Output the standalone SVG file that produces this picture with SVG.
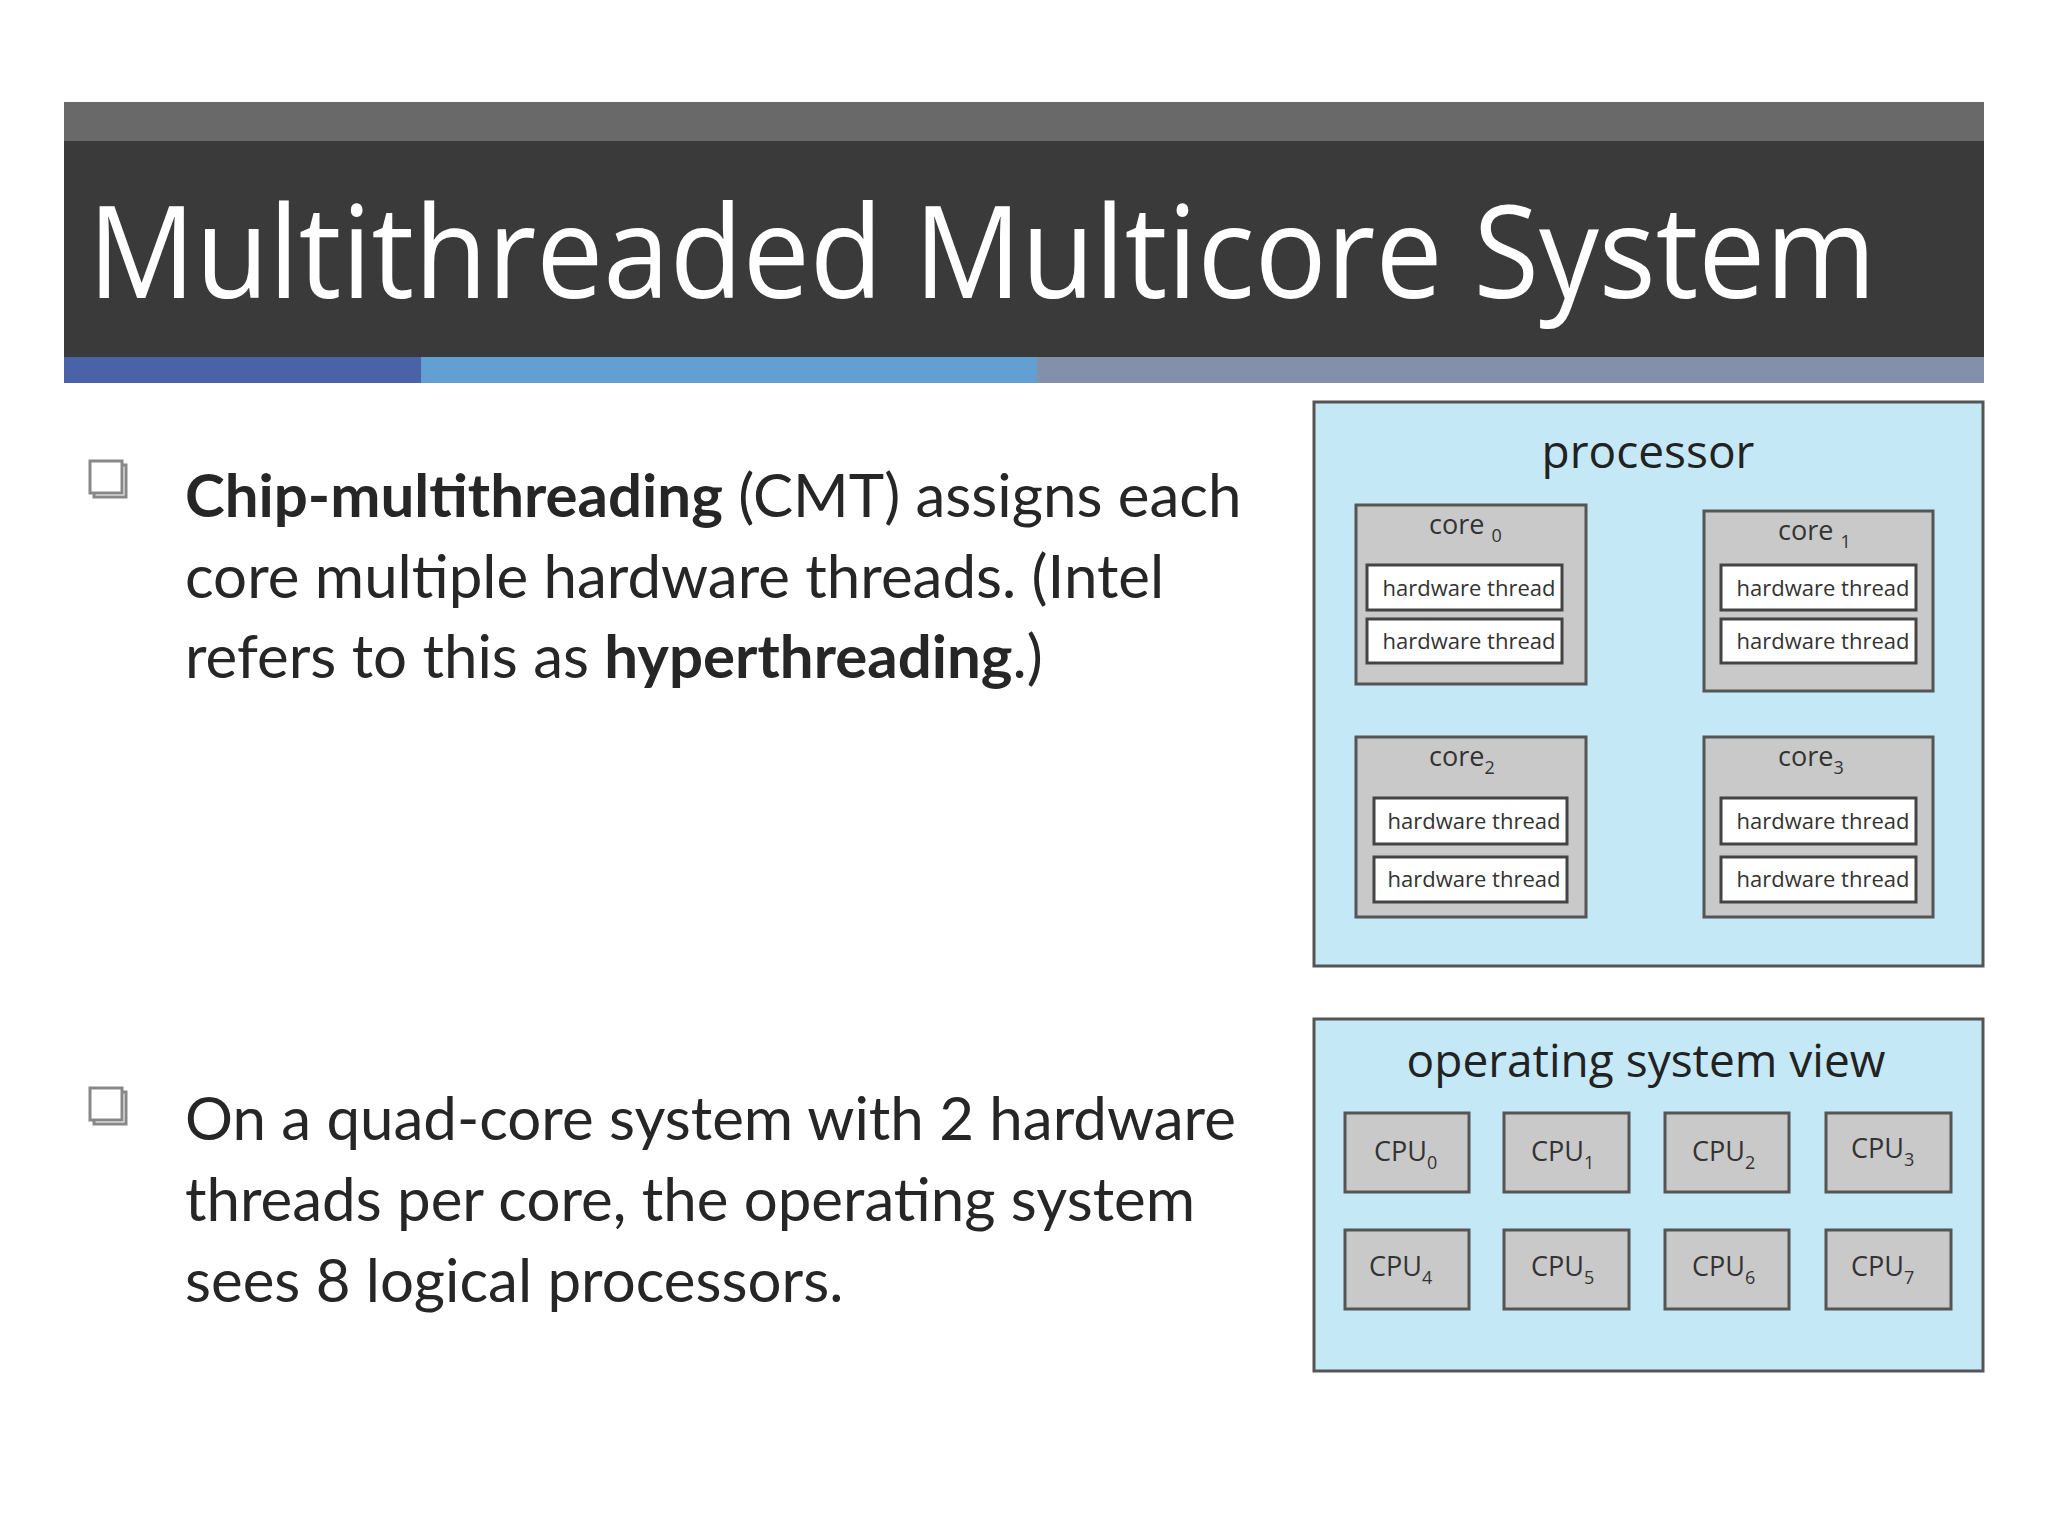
<svg xmlns="http://www.w3.org/2000/svg" width="2048" height="1536" viewBox="0 0 2048 1536">
<style>
.b{font-family:Lato,"Liberation Sans",sans-serif;font-size:60px;fill:#262626}
.d{font-family:"Open Sans","DejaVu Sans",sans-serif;fill:#222}
.core{fill:#c9c9c9;stroke:#555;stroke-width:3}
.th{fill:#fff;stroke:#444;stroke-width:3}
.cpu{fill:#c9c9c9;stroke:#555;stroke-width:3}
.tt{font-family:"Open Sans","DejaVu Sans",sans-serif;font-size:22px;fill:#333;text-anchor:middle}
.cl{font-family:"Open Sans","DejaVu Sans",sans-serif;font-size:27px;fill:#333}
.bul{fill:#fff;stroke:#888;stroke-width:3}
</style>
<rect width="2048" height="1536" fill="#fff"/>
<g id="title">
<rect x="64" y="102" width="1920" height="40" fill="#696969"/>
<rect x="64" y="141" width="1920" height="216" fill="#3a3a3a"/>
<rect x="64" y="357" width="357" height="26" fill="#4a62a8"/>
<rect x="421" y="357" width="616" height="26" fill="#62a0d4"/>
<rect x="1037" y="357" width="947" height="26" fill="#8290aa"/>
<text x="88" y="298" font-family="'Open Sans','DejaVu Sans',sans-serif" font-size="128" fill="#fff" textLength="1788" lengthAdjust="spacingAndGlyphs">Multithreaded Multicore System</text>
</g>
<g id="bullet1">
<rect x="94" y="465" width="32" height="32" class="bul"/><rect x="90" y="461" width="32" height="32" class="bul"/>
<text class="b" x="185" y="517"><tspan font-weight="bold">Chip-multithreading</tspan> (CMT) assigns each</text>
<text class="b" x="185" y="598">core multiple hardware threads. (Intel</text>
<text class="b" x="185" y="678">refers to this as <tspan font-weight="bold">hyperthreading</tspan>.)</text>
</g>
<g id="bullet2">
<rect x="94" y="1092" width="32" height="32" class="bul"/><rect x="90" y="1088" width="32" height="32" class="bul"/>
<text class="b" x="185" y="1140">On a quad-core system with 2 hardware</text>
<text class="b" x="185" y="1221">threads per core, the operating system</text>
<text class="b" x="185" y="1302">sees 8 logical processors.</text>
</g>
<g id="processor">
<rect x="1314" y="402" width="669" height="564" fill="#c5e8f7" stroke="#555" stroke-width="3"/>
<text class="d" x="1648" y="468" font-size="46" text-anchor="middle">processor</text>
</g>
<g id="core0">
<rect class="core" x="1356" y="505" width="230" height="179"/>
<text class="cl" x="1429" y="534">core <tspan font-size="18" dy="8">0</tspan></text>
<rect class="th" x="1367" y="565" width="195" height="45"/><text class="tt" x="1469" y="596">hardware thread</text>
<rect class="th" x="1367" y="619" width="195" height="44"/><text class="tt" x="1469" y="649">hardware thread</text>
</g>
<g id="core1">
<rect class="core" x="1704" y="511" width="229" height="180"/>
<text class="cl" x="1778" y="540">core <tspan font-size="18" dy="8">1</tspan></text>
<rect class="th" x="1721" y="565" width="195" height="45"/><text class="tt" x="1823" y="596">hardware thread</text>
<rect class="th" x="1721" y="619" width="195" height="44"/><text class="tt" x="1823" y="649">hardware thread</text>
</g>
<g id="core2">
<rect class="core" x="1356" y="737" width="230" height="180"/>
<text class="cl" x="1429" y="766">core<tspan font-size="18" dy="8">2</tspan></text>
<rect class="th" x="1374" y="798" width="193" height="46"/><text class="tt" x="1474" y="829">hardware thread</text>
<rect class="th" x="1374" y="857" width="193" height="45"/><text class="tt" x="1474" y="887">hardware thread</text>
</g>
<g id="core3">
<rect class="core" x="1704" y="737" width="229" height="180"/>
<text class="cl" x="1778" y="766">core<tspan font-size="18" dy="8">3</tspan></text>
<rect class="th" x="1721" y="798" width="195" height="46"/><text class="tt" x="1823" y="829">hardware thread</text>
<rect class="th" x="1721" y="857" width="195" height="45"/><text class="tt" x="1823" y="887">hardware thread</text>
</g>
<g id="osview">
<rect x="1314" y="1019" width="669" height="352" fill="#c5e8f7" stroke="#555" stroke-width="3"/>
<text class="d" x="1646" y="1077" font-size="46" text-anchor="middle">operating system view</text>
</g>
<g id="cpus">
<rect class="cpu" x="1345" y="1113" width="124" height="79"/><text class="cl" x="1374" y="1161">CPU<tspan font-size="18" dy="8">0</tspan></text>
<rect class="cpu" x="1504" y="1113" width="125" height="79"/><text class="cl" x="1531" y="1161">CPU<tspan font-size="18" dy="8">1</tspan></text>
<rect class="cpu" x="1665" y="1113" width="124" height="79"/><text class="cl" x="1692" y="1161">CPU<tspan font-size="18" dy="8">2</tspan></text>
<rect class="cpu" x="1826" y="1113" width="125" height="79"/><text class="cl" x="1851" y="1158">CPU<tspan font-size="18" dy="8">3</tspan></text>
<rect class="cpu" x="1345" y="1230" width="124" height="79"/><text class="cl" x="1369" y="1276">CPU<tspan font-size="18" dy="8">4</tspan></text>
<rect class="cpu" x="1504" y="1230" width="125" height="79"/><text class="cl" x="1531" y="1276">CPU<tspan font-size="18" dy="8">5</tspan></text>
<rect class="cpu" x="1665" y="1230" width="124" height="79"/><text class="cl" x="1692" y="1276">CPU<tspan font-size="18" dy="8">6</tspan></text>
<rect class="cpu" x="1826" y="1230" width="125" height="79"/><text class="cl" x="1851" y="1276">CPU<tspan font-size="18" dy="8">7</tspan></text>
</g>
</svg>
